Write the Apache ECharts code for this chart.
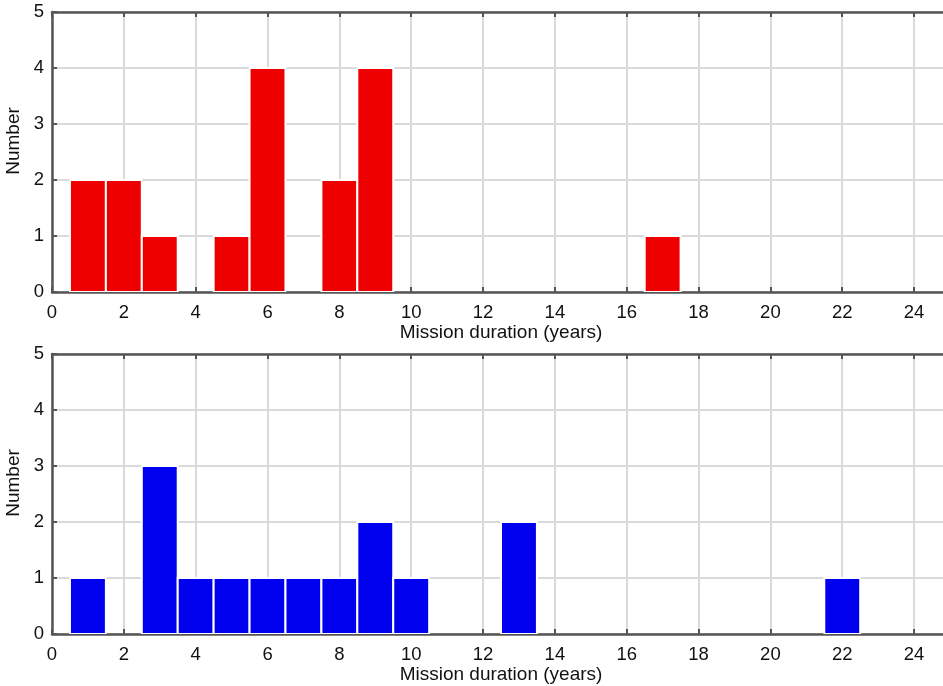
<!DOCTYPE html>
<html>
<head>
<meta charset="utf-8">
<script src="https://cdn.jsdelivr.net/npm/echarts@6/dist/echarts.min.js"></script>
<style>html,body{margin:0;padding:0;background:#fff;}#c{width:943px;height:686px;}</style>
</head>
<body>
<div id="c"></div>
<script>
// Data (bin centre in years, count)
const topBins = [1, 2, 3, 5, 6, 8, 9, 17];
const topCounts = [2, 2, 1, 1, 4, 2, 4, 1];
const bottomBins = [1, 3, 4, 5, 6, 7, 8, 9, 10, 13, 22];
const bottomCounts = [1, 3, 1, 1, 1, 1, 1, 2, 1, 2, 1];
const xName = 'Mission duration (years)';
const yName = 'Number';

const FONT = '"Liberation Sans", Arial, Helvetica, sans-serif';
const axisColor = '#555';
const gridColor = '#d9d9d9';

function pairs(b, c) { return b.map((x, i) => [x, c[i]]); }

function renderBar(color) {
  return function (params, api) {
    const x = api.value(0), v = api.value(1);
    const p1 = api.coord([x - 0.5, v]);
    const p2 = api.coord([x + 0.5, 0]);
    return {
      type: 'rect',
      shape: { x: p1[0], y: p1[1], width: p2[0] - p1[0], height: p2[1] - p1[1] },
      style: { fill: color, stroke: '#fff', lineWidth: 2 }
    };
  };
}

function xBottom(gi) {
  return {
    type: 'value', gridIndex: gi, min: 0, max: 25, interval: 2, position: 'bottom',
    name: xName, nameLocation: 'middle', nameGap: 31,
    nameTextStyle: { fontFamily: FONT, fontSize: 19, color: '#111' },
    axisLine: { show: true, onZero: false, lineStyle: { color: axisColor, width: 2.5 } },
    axisTick: { show: true, inside: true, length: 5, lineStyle: { color: axisColor, width: 2 } },
    axisLabel: { fontFamily: FONT, fontSize: 18.5, color: '#111', margin: 11, showMaxLabel: false },
    splitLine: { show: true, lineStyle: { color: gridColor, width: 2 } }
  };
}
function xTop(gi) {
  return {
    type: 'value', gridIndex: gi, min: 0, max: 25, interval: 2, position: 'top',
    axisLine: { show: true, onZero: false, lineStyle: { color: axisColor, width: 2.5 } },
    axisTick: { show: true, inside: true, length: 5, lineStyle: { color: axisColor, width: 2 } },
    axisLabel: { show: false },
    splitLine: { show: false }
  };
}
function yLeft(gi) {
  return {
    type: 'value', gridIndex: gi, min: 0, max: 5, interval: 1, position: 'left',
    name: yName, nameLocation: 'middle', nameGap: 24,
    nameTextStyle: { fontFamily: FONT, fontSize: 19, color: '#111', padding: [0, 0, 0, 22] },
    axisLine: { show: true, onZero: false, lineStyle: { color: axisColor, width: 2.5 } },
    axisTick: { show: true, inside: true, length: 5, lineStyle: { color: axisColor, width: 2 } },
    axisLabel: { fontFamily: FONT, fontSize: 18.5, color: '#111', margin: 8, padding: [6, 0, 0, 0] },
    splitLine: { show: true, lineStyle: { color: gridColor, width: 2 } }
  };
}

const chart = echarts.init(document.getElementById('c'), null, { renderer: 'canvas' });
chart.setOption({
  animation: false,
  backgroundColor: '#fff',
  grid: [
    { left: 52, top: 12, width: 898, height: 280, containLabel: false, outerBoundsMode: 'none' },
    { left: 52, top: 354, width: 898, height: 280, containLabel: false, outerBoundsMode: 'none' }
  ],
  xAxis: [xBottom(0), xBottom(1), xTop(0), xTop(1)],
  yAxis: [yLeft(0), yLeft(1)],
  series: [
    { type: 'custom', xAxisIndex: 0, yAxisIndex: 0, renderItem: renderBar('#ee0000'),
      encode: { x: 0, y: 1 }, data: pairs(topBins, topCounts), clip: true },
    { type: 'custom', xAxisIndex: 1, yAxisIndex: 1, renderItem: renderBar('#0000ee'),
      encode: { x: 0, y: 1 }, data: pairs(bottomBins, bottomCounts), clip: true }
  ]
});
</script>
</body>
</html>
